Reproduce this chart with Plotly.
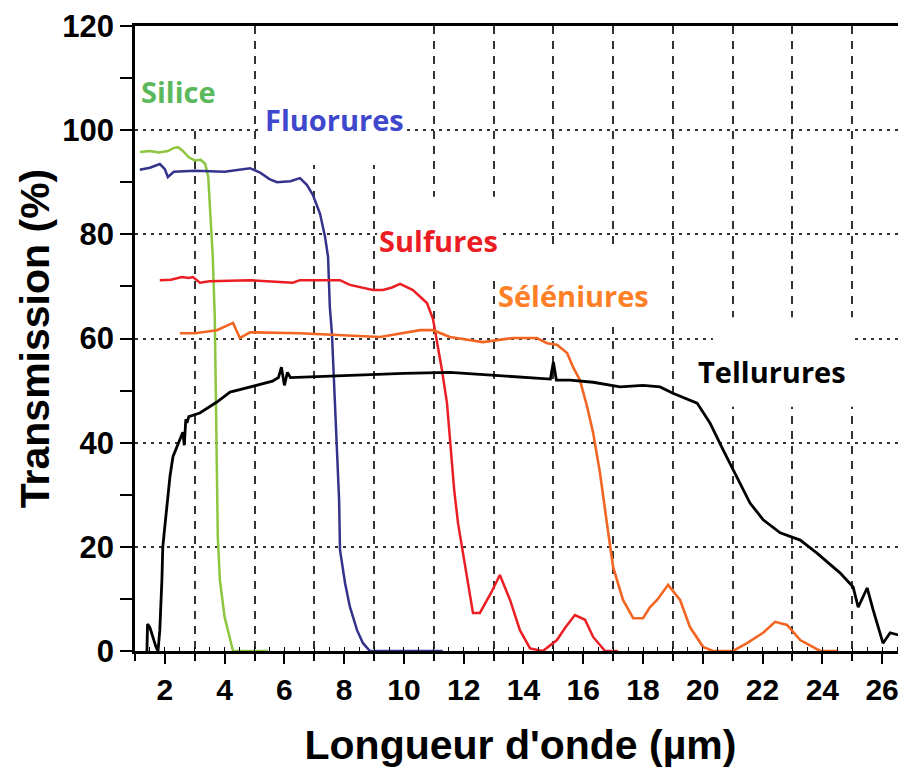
import plotly.graph_objects as go

# ---------------- data ----------------
sil_x = [1.17, 1.5, 1.8, 2.1, 2.3, 2.45, 2.6, 2.8, 3.0, 3.2, 3.35, 3.45, 3.52, 3.6, 3.67, 3.72, 3.77, 3.84, 4.0, 4.28, 5.45]
sil_y = [95.8, 96.0, 95.7, 96.0, 96.6, 96.7, 96.0, 94.8, 94.2, 94.3, 93.5, 91.0, 84.0, 76.0, 64.0, 40.0, 22.0, 13.6, 6.5, 0.0, 0.0]

flu_x = [1.16, 1.5, 1.83, 2.0, 2.1, 2.3, 3.0, 4.0, 4.85, 5.2, 5.5, 5.75, 6.2, 6.52, 6.75, 6.95, 7.19, 7.36,
         7.46, 7.52, 7.59, 7.66, 7.76, 7.83, 7.86, 8.03, 8.19, 8.43, 8.63, 8.86, 11.3]
flu_y = [92.4, 92.8, 93.5, 92.5, 91.0, 92.0, 92.2, 92.0, 92.7, 91.8, 90.6, 90.0, 90.2, 90.8, 89.5, 87.6, 84.0, 79.5,
         75.7, 66.0, 61.0, 50.7, 38.0, 29.0, 19.4, 13.0, 8.5, 4.0, 1.5, 0.0, 0.0]

sul_x = [1.83, 2.2, 2.57, 2.8, 2.94, 3.17, 3.5, 4.85, 6.28, 6.52, 7.86, 8.19, 8.96, 9.3, 9.6, 9.87, 10.3, 10.54,
         10.77, 10.97, 11.14, 11.27, 11.44, 11.54, 11.68, 11.81, 12.1, 12.31, 12.54, 12.9, 13.21, 13.55, 13.88, 14.22,
         14.65, 15.12, 15.4, 15.72, 16.06, 16.33, 16.73, 17.16]
sul_y = [71.2, 71.3, 71.8, 71.6, 71.8, 70.7, 71.0, 71.2, 70.7, 71.2, 71.2, 70.3, 69.3, 69.3, 69.8, 70.5, 69.3, 68.0,
         66.8, 63.8, 58.4, 54.0, 47.6, 41.0, 31.0, 24.5, 15.0, 7.3, 7.3, 11.0, 14.6, 9.8, 4.0, 0.5,
         0.0, 2.1, 4.5, 6.9, 6.0, 2.7, 0.0, 0.0]

sel_x = [2.5, 3.0, 3.74, 4.28, 4.51, 4.85, 6.52, 9.2, 10.54, 10.97, 11.54, 12.64, 13.65, 14.45, 14.79, 15.12,
         15.46, 15.66, 15.89, 16.13, 16.33, 16.49, 16.56, 16.79, 17.0, 17.33, 17.67, 18.0, 18.23, 18.47, 18.84,
         19.24, 19.57, 20.01, 20.34, 21.01, 21.48, 22.02, 22.42, 22.82, 23.26, 23.93, 24.49]
sel_y = [61.0, 61.0, 61.6, 63.0, 60.1, 61.2, 61.0, 60.3, 61.6, 61.6, 60.3, 59.3, 60.1, 60.1, 59.1, 58.8,
         57.2, 54.5, 52.0, 46.9, 41.9, 36.7, 34.2, 24.6, 16.1, 9.8, 6.3, 6.3, 8.4, 9.8, 12.7,
         9.8, 4.6, 0.8, 0.0, 0.0, 1.5, 3.5, 5.6, 5.0, 2.1, 0.0, 0.0]

tel_x = [1.40, 1.42, 1.5, 1.6, 1.7, 1.77, 1.83, 1.9, 1.93, 2.0, 2.07, 2.17, 2.27, 2.5, 2.6, 2.65, 2.7, 2.74, 2.8,
         3.17, 3.74, 4.18, 5.08, 5.6, 5.8, 5.9, 6.0, 6.1, 6.2, 6.62, 8.19, 10.0, 11.54, 13.21, 14.9, 15.0,
         15.1, 15.56, 16.33, 17.23, 18.0, 18.57, 19.0, 19.81, 20.24, 20.68, 21.15, 21.58, 22.02, 22.59,
         23.26, 23.82, 24.59, 25.03, 25.20, 25.50, 25.70, 26.03, 26.27, 26.8]
tel_y = [0.0, 5.2, 4.5, 2.5, 0.8, 0.0, 4.0, 13.6, 20.0, 24.0, 28.0, 33.5, 37.3, 40.5, 42.0, 39.5, 44.5, 43.8, 45.0,
         45.7, 47.8, 49.7, 51.0, 51.8, 52.5, 54.5, 51.0, 53.5, 52.5, 52.6, 53.0, 53.3, 53.5, 52.8, 52.2, 55.5,
         52.0, 52.0, 51.6, 50.7, 51.0, 50.7, 49.5, 47.6, 43.8, 38.6, 33.4, 28.4, 25.2, 22.7,
         21.3, 18.8, 15.0, 12.3, 8.4, 12.1, 7.9, 1.5, 3.5, 2.7]

names = ["Silice", "Fluorures", "Sulfures", "Séléniures", "Tellurures"]
line_colors = ["#8cc63f", "#33338c", "#eb1e23", "#f26522", "#000000"]
line_widths = [2.5, 2.5, 2.5, 2.6, 2.8]
label_colors = ["#5cb85c", "#3f48cc", "#ec1c24", "#ff7f27", "#000000"]
label_x = [2.44, 7.69, 11.14, 15.66, 22.32]
label_y = [107.5, 102.1, 78.9, 68.2, 53.6]
# white boxes behind labels: (x0, x1, y0, y1)
box_x0 = [1.06, 5.25, 9.10, 13.11, 20.34]
box_x1 = [4.68, 10.03, 13.21, 18.40, 25.03]
box_y0 = [101.0, 93.3, 71.2, 62.2, 46.9]
box_y1 = [120.0, 120.0, 87.2, 78.0, 64.1]

series = [(sil_x, sil_y), (flu_x, flu_y), (sul_x, sul_y), (sel_x, sel_y), (tel_x, tel_y)]

fig = go.Figure()
for (xs, ys), nm, col, lw in zip(series, names, line_colors, line_widths):
    fig.add_trace(go.Scatter(x=xs, y=ys, mode="lines", name=nm,
                             line=dict(color=col, width=lw), showlegend=False))

for x0, x1, y0, y1 in zip(box_x0, box_x1, box_y0, box_y1):
    fig.add_shape(type="rect", xref="x", yref="y", x0=x0, x1=x1, y0=y0, y1=y1,
                  fillcolor="white", line=dict(width=0), layer="between")

for nm, c, lx, ly in zip(names, label_colors, label_x, label_y):
    fig.add_annotation(x=lx, y=ly, xref="x", yref="y", text=nm, showarrow=False,
                       xanchor="center", yanchor="middle",
                       font=dict(family="Open Sans", size=29, color=c, weight="bold"))

tickfont_x = dict(family="Liberation Sans, Arial", size=30, color="black", weight="bold")
tickfont_y = dict(family="Liberation Sans, Arial", size=31, color="black", weight="bold")
titlefont = dict(family="Liberation Sans, Arial", size=41, color="black", weight="bold")

# the page body adds an 8px offset, so the figure is 8px smaller and margins shifted
fig.update_layout(
    width=898, height=762,
    margin=dict(l=127, r=0, t=18, b=119, autoexpand=False),
    paper_bgcolor="white", plot_bgcolor="white",
    xaxis=dict(range=[1.0, 26.8], tick0=0, dtick=2, ticks="outside", ticklen=10, tickwidth=2,
               tickcolor="black", showline=True, linewidth=2.5, linecolor="black", mirror=True,
               showgrid=False, zeroline=False, tickfont=tickfont_x, automargin=False,
               title=dict(text="Longueur d'onde (µm)", font=titlefont, standoff=26),
               minor=dict(tick0=0, dtick=1, ticks="outside", ticklen=7, tickwidth=1.5, tickcolor="black",
                          showgrid=True, gridcolor="#333333", gridwidth=1.6, griddash="8px,7px")),
    xaxis2=dict(range=[1.0, 26.8], overlaying="x", anchor="y", side="bottom", tick0=0, dtick=0.5,
                ticks="inside", ticklen=4, tickwidth=1.2, tickcolor="black", showticklabels=False,
                showgrid=False, showline=False, zeroline=False, automargin=False),
    yaxis=dict(range=[0, 120], tick0=0, dtick=20, ticks="outside", ticklen=12, tickwidth=2,
               tickcolor="black", showline=True, linewidth=2.5, linecolor="black", mirror=False,
               showgrid=True, gridcolor="#333333", gridwidth=1.8, griddash="3px,5px",
               zeroline=False, tickfont=tickfont_y, automargin=False,
               title=dict(text="Transmission (%)", font=titlefont, standoff=0),
               minor=dict(tick0=0, dtick=10, ticks="outside", ticklen=12, tickwidth=2, tickcolor="black",
                          showgrid=False)),
)
# invisible helper trace so the secondary (half-unit tick) axis is rendered
fig.add_trace(go.Scatter(x=[1.0], y=[0], xaxis="x2", mode="markers", marker=dict(opacity=0),
                         showlegend=False, hoverinfo="skip"))

fig.write_html("out.html")
